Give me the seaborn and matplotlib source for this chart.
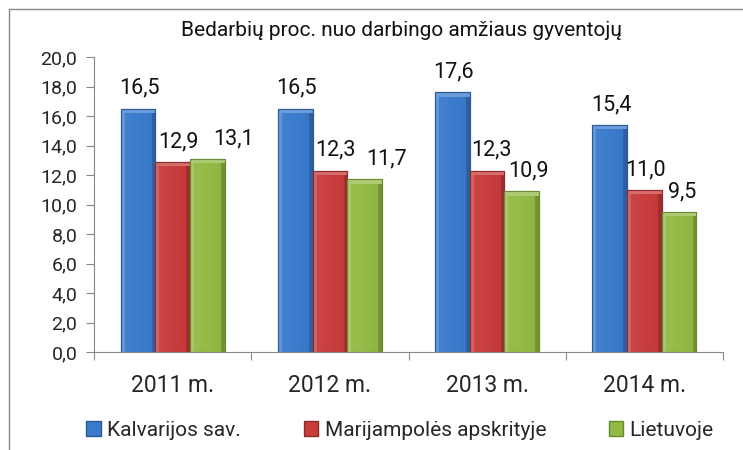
import matplotlib
matplotlib.use("Agg")
import matplotlib.pyplot as plt
import seaborn as sns
import pandas as pd
import numpy as np
from matplotlib.lines import Line2D
from matplotlib.patches import Patch
from matplotlib.colors import to_rgb

years = ["2011 m.", "2012 m.", "2013 m.", "2014 m."]
series = ["Kalvarijos sav.", "Marijampolės apskrityje", "Lietuvoje"]
kalvarija = [16.5, 16.5, 17.6, 15.4]
marijampole = [12.9, 12.3, 12.3, 11.0]
lietuva = [13.1, 11.7, 10.9, 9.5]
yticks = [0, 2, 4, 6, 8, 10, 12, 14, 16, 18, 20]
title = "Bedarbių proc. nuo darbingo amžiaus gyventojų"

colors = ["#3a7bcc", "#c83c3c", "#93ba45"]
edges = ["#2a5a99", "#8e2a2a", "#6a8a30"]
# horizontal label nudges (points) per series, per category, to avoid overlaps
label_dx = [[1, 1, 1, 1], [4, 4, 3, 1], [19, 16, 5, 2]]

sns.set_theme(style="white")
plt.rcParams['font.family'] = ['Roboto', 'DejaVu Sans']

df = pd.DataFrame({
    "year": years * 3,
    "series": [series[0]] * 4 + [series[1]] * 4 + [series[2]] * 4,
    "value": kalvarija + marijampole + lietuva,
})

fig = plt.figure(figsize=(7.43, 4.5), dpi=100)
ax = fig.add_axes([94/743, 1 - 352/450, (723 - 94)/743, (352 - 57)/450])

sns.barplot(data=df, x="year", y="value", hue="series", palette=colors,
            width=0.66, gap=0, ax=ax, legend=False, saturation=1)

def lighten(c, f):
    r = np.array(to_rgb(c))
    return tuple(r + (1 - r) * f)

for i, cont in enumerate(ax.containers):
    for j, bar in enumerate(cont):
        bar.set_edgecolor(edges[i])
        bar.set_linewidth(0.8)
        x0, y0 = bar.get_x(), bar.get_y()
        w, h = bar.get_width(), bar.get_height()
        n = 64
        xs = np.linspace(0, 1, n)
        base = np.array(to_rgb(colors[i]))
        prof = np.where(xs < 0.1, 0.22, np.where(xs > 0.9, -0.22, 0.06 - 0.1 * xs))
        img = np.zeros((1, n, 3))
        for k in range(n):
            p = prof[k]
            img[0, k] = base + (1 - base) * p if p > 0 else base * (1 + p)
        im = ax.imshow(img, extent=[x0, x0 + w, y0, y0 + h], aspect="auto", zorder=bar.get_zorder() + 0.1,
                       interpolation="bilinear")
        im.set_clip_path(bar)
        ax.fill_between([x0, x0 + w], [y0 + h - 0.3, y0 + h - 0.3], [y0 + h, y0 + h],
                        color=lighten(colors[i], 0.25), zorder=bar.get_zorder() + 0.2, lw=0)
        ax.plot([x0, x0 + w, x0 + w, x0, x0], [y0, y0, y0 + h, y0 + h, y0], color=edges[i],
                lw=0.8, zorder=bar.get_zorder() + 0.3)
        txt = f"{cont.datavalues[j]:.1f}".replace(".", ",")
        ax.annotate(txt, (x0 + w / 2, y0 + h), xytext=(label_dx[i][j], 7),
                    textcoords="offset points", ha="center", va="bottom",
                    fontsize=15.5, color="#111111")

ax.set_ylim(0, 20)
ax.set_xlim(-0.5, 3.5)
ax.set_yticks(yticks)
ax.set_yticklabels([f"{v:.1f}".replace(".", ",") for v in yticks], fontsize=14)
ax.set_xticks(range(4))
ax.set_xticklabels(years, fontsize=16.5)
ax.tick_params(axis="x", length=0, pad=16)
ax.tick_params(axis="y", length=6, width=0.8, color="#888888", left=True, pad=6)
ax.set_xticks([-0.5, 0.5, 1.5, 2.5, 3.5], minor=True)
ax.tick_params(axis="x", which="minor", length=6, width=0.8, color="#888888", bottom=True)
ax.set_xlabel("")
ax.set_ylabel("")
for s in ["top", "right"]:
    ax.spines[s].set_visible(False)
for s in ["left", "bottom"]:
    ax.spines[s].set_color("#888888")
    ax.spines[s].set_linewidth(0.8)

fig.text(401/743, 1 - 30/450, title, ha="center", va="center", fontsize=15, color="#111111")

handles = [Patch(facecolor=colors[i], edgecolor=edges[i], label=series[i]) for i in range(3)]
fig.legend(handles=handles, loc="center", bbox_to_anchor=(400/743, 1 - 430/450), ncol=3,
           frameon=False, fontsize=15, handlelength=0.7, handleheight=0.7,
           handletextpad=0.3, columnspacing=3.0)

fig.add_artist(Line2D([9/743, 1.0], [1 - 9/450, 1 - 9/450], transform=fig.transFigure, color="#888888", lw=1))
fig.add_artist(Line2D([9/743, 9/743], [0, 1 - 9/450], transform=fig.transFigure, color="#888888", lw=1))

fig.savefig("out.png", dpi=100)
